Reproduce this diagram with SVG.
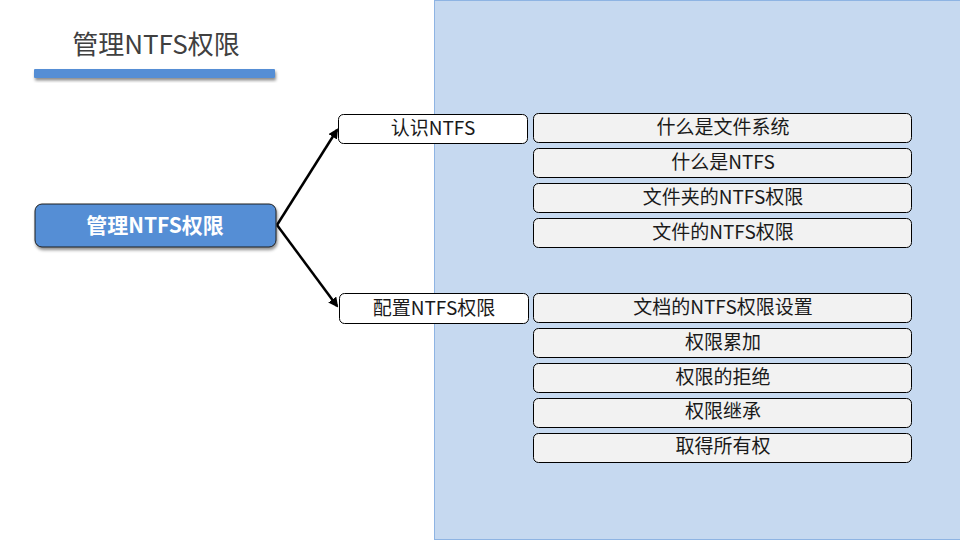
<svg xmlns="http://www.w3.org/2000/svg" width="960" height="540" viewBox="0 0 960 540">
<defs>
<style>
text{font-family:"Noto Sans CJK SC","Noto Sans",sans-serif;text-anchor:middle}
.t{font-size:19px;fill:#1a1a1a}
.cat{fill:#fff;stroke:#000;stroke-width:1}
.item{fill:#f2f2f2;stroke:#000;stroke-width:1}
.conn{stroke:#000;stroke-width:2.5;fill:none;marker-end:url(#ah)}
</style>
<marker id="ah" viewBox="0 0 10 10" refX="8" refY="5" markerWidth="4" markerHeight="4" orient="auto"><path d="M0,0 L10,5 L0,10 z" fill="#000"/></marker>
<filter id="sh" x="-10%" y="-30%" width="120%" height="180%"><feDropShadow dx="1" dy="2.5" stdDeviation="1.5" flood-color="#000" flood-opacity="0.45"/></filter>
</defs>
<rect width="960" height="540" fill="#fff"/>
<rect x="434.5" y="0.5" width="530" height="539" fill="#c6d9f0" stroke="#8eb4e3" stroke-width="1"/>
<g id="title">
<text x="156" y="54" style="font-size:26px;fill:#404040">管理NTFS权限</text>
<rect x="34" y="69" width="241" height="9" rx="1" fill="#558ed5" filter="url(#sh)"/>
</g>
<g id="connectors">
<path class="conn" d="M277,225 L337,130"/>
<path class="conn" d="M277,225 L337,306"/>
</g>
<g id="root">
<rect x="35" y="204" width="241" height="43" rx="7" fill="#558ed5" stroke="#1f1f1f" stroke-width="1" filter="url(#sh)"/>
<text x="155" y="233" style="font-size:21px;font-weight:bold;fill:#fff">管理NTFS权限</text>
</g>
<g id="cat1"><rect class="cat" x="338.5" y="114.5" width="189" height="29" rx="5"/><text class="t" x="433" y="135">认识NTFS</text></g>
<g id="cat2"><rect class="cat" x="339.5" y="293.5" width="189" height="30" rx="5"/><text class="t" x="434" y="315">配置NTFS权限</text></g>
<g id="i1"><rect class="item" x="533.5" y="113.5" width="378" height="29" rx="5"/><text class="t" x="723" y="134">什么是文件系统</text></g>
<g id="i2"><rect class="item" x="533.5" y="148.5" width="378" height="29" rx="5"/><text class="t" x="723" y="169">什么是NTFS</text></g>
<g id="i3"><rect class="item" x="533.5" y="183.5" width="378" height="29" rx="5"/><text class="t" x="723" y="204">文件夹的NTFS权限</text></g>
<g id="i4"><rect class="item" x="533.5" y="218.5" width="378" height="29" rx="5"/><text class="t" x="723" y="239">文件的NTFS权限</text></g>
<g id="i5"><rect class="item" x="533.5" y="293.5" width="378" height="29" rx="5"/><text class="t" x="723" y="314">文档的NTFS权限设置</text></g>
<g id="i6"><rect class="item" x="533.5" y="328.5" width="378" height="29" rx="5"/><text class="t" x="723" y="349">权限累加</text></g>
<g id="i7"><rect class="item" x="533.5" y="363.5" width="378" height="29" rx="5"/><text class="t" x="723" y="384">权限的拒绝</text></g>
<g id="i8"><rect class="item" x="533.5" y="398.5" width="378" height="29" rx="5"/><text class="t" x="723" y="418">权限继承</text></g>
<g id="i9"><rect class="item" x="533.5" y="433.5" width="378" height="29" rx="5"/><text class="t" x="723" y="453">取得所有权</text></g>
</svg>
